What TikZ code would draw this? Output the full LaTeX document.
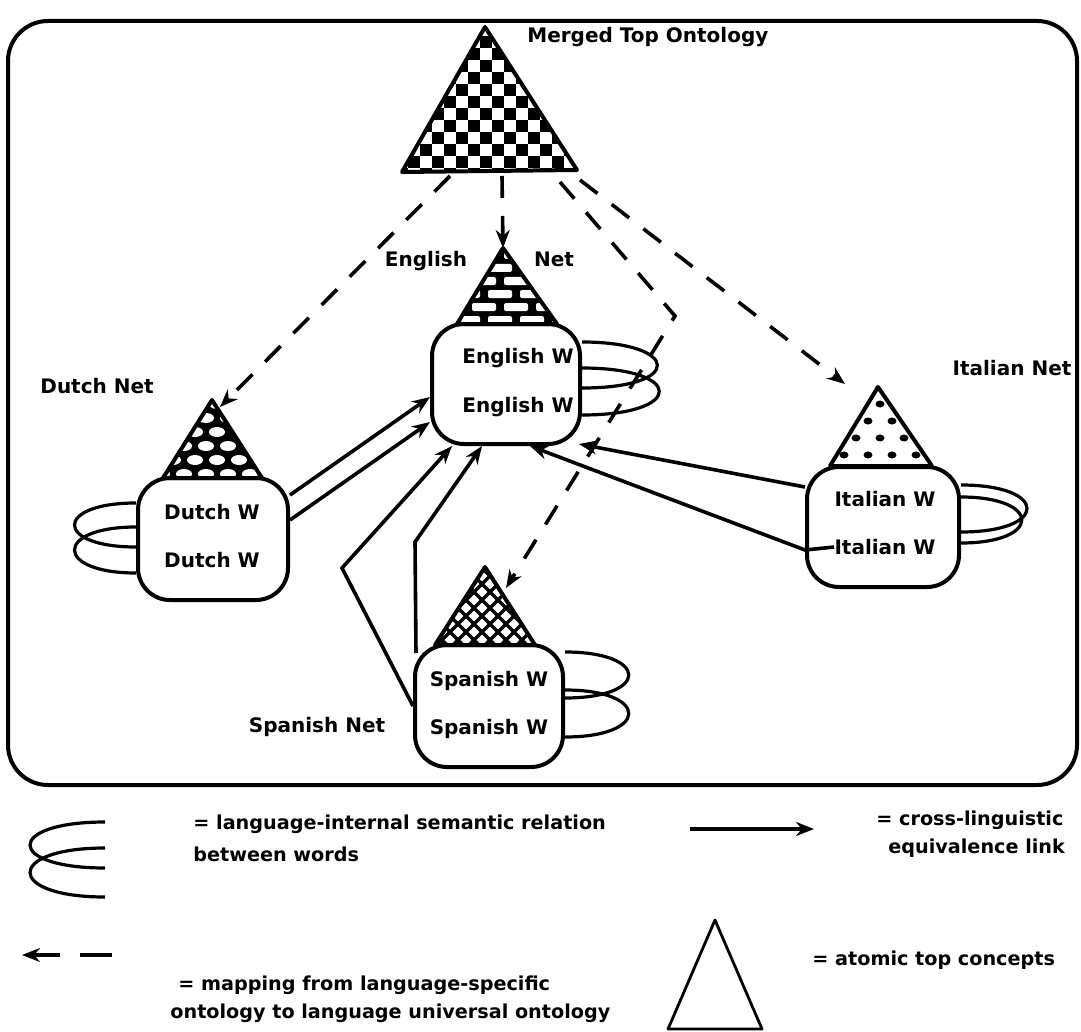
\documentclass[tikz,border=0pt]{standalone}
\usepackage{fontspec}
\setmainfont{DejaVu Sans}
\usetikzlibrary{arrows.meta,positioning,calc}

\tikzset{
  wordbox/.style={draw, line width=2pt, rounded corners=16pt, minimum width=74pt, minimum height=60pt},
  word/.style={font=\fontsize{10}{12}\selectfont\bfseries, inner sep=0pt},
  netlabel/.style={font=\fontsize{10}{12}\selectfont\bfseries, inner sep=0pt},
  legendtext/.style={font=\fontsize{9.6}{11}\selectfont\bfseries, inner sep=0pt, anchor=west},
  semloop/.style={line width=1.6pt},
  equiv/.style={line width=1.8pt, -{Stealth[length=9pt,width=7pt]}},
  mapping/.style={line width=1.8pt, dash pattern=on 11pt off 9pt, -{Stealth[length=9pt,width=7pt]}},
  tri/.style={line width=2pt, line join=round},
}

\begin{document}
\begin{tikzpicture}[x=0.5pt, y=-0.5pt]
  \useasboundingbox (0,0) rectangle (1081,1032);
  % outer frame
  \draw[line width=2pt, rounded corners=20pt] (8,21) rectangle (1077,785);

  % triangle corners
  \coordinate (topA) at (485,27);  \coordinate (topL) at (402,172); \coordinate (topR) at (577,170);
  \coordinate (engA) at (503,248); \coordinate (engL) at (457,324); \coordinate (engR) at (557,324);
  \coordinate (dutA) at (212,400); \coordinate (dutL) at (163,478); \coordinate (dutR) at (262,478);
  \coordinate (itaA) at (878,387); \coordinate (itaL) at (830,466); \coordinate (itaR) at (932,466);
  \coordinate (spaA) at (485,567); \coordinate (spaL) at (435,645); \coordinate (spaR) at (535,645);

  % Merged top ontology: checkerboard
  \begin{scope}
    \clip (topA) -- (topL) -- (topR) -- cycle;
    \foreach \x in {396,420,...,588}
      \foreach \y in {24,48,...,180}
        {\fill (\x,\y) rectangle +(12,12); \fill (\x+12,\y+12) rectangle +(12,12);}
  \end{scope}
  \draw[tri] (topA) -- (topL) -- (topR) -- cycle;
  \node[netlabel, anchor=west] (mergedlbl) at (527,37) {Merged Top Ontology};

  % English net: bricks
  \begin{scope}
    \clip (engA) -- (engL) -- (engR) -- cycle;
    \fill (440,240) rectangle (570,330);
    \foreach \y [count=\r] in {251,264,277,290,303,316}
      \foreach \x in {424,456,...,584}
        \fill[white, rounded corners=1pt] ({\x+mod(\r,2)*16},\y) rectangle +(24,8);
  \end{scope}
  \draw[tri] (engA) -- (engL) -- (engR) -- cycle;
  \node[netlabel] (englbl) at (426,261) {English};
  \node[netlabel] (netlbl) at (554,259) {Net};

  % Dutch net: scales
  \begin{scope}
    \clip (dutA) -- (dutL) -- (dutR) -- cycle;
    \fill (150,390) rectangle (275,485);
    \foreach \y [count=\r] in {404,418,432,446,460,474}
      \foreach \x in {140,162,...,290}
        \fill[white] ({\x+mod(\r,2)*11},\y) ellipse (8 and 5);
  \end{scope}
  \draw[tri] (dutA) -- (dutL) -- (dutR) -- cycle;
  \node[netlabel, anchor=west] (dutlbl) at (40,386) {Dutch Net};

  % Italian net: dots
  \begin{scope}
    \clip (itaA) -- (itaL) -- (itaR) -- cycle;
    \foreach \y [count=\r] in {404,421,438,455}
      \foreach \x in {820,844,...,940}
        \fill ({\x+mod(\r,2)*12},\y) ellipse (4.5 and 3.5);
  \end{scope}
  \draw[tri] (itaA) -- (itaL) -- (itaR) -- cycle;
  \node[netlabel] (italbl) at (1012,368) {Italian Net};

  % Spanish net: crosshatch
  \begin{scope}
    \clip (spaA) -- (spaL) -- (spaR) -- cycle;
    \foreach \k in {330,346,...,650}
      {\draw[line width=1.6pt] (\k,560) -- ++(100,100); \draw[line width=1.6pt] (\k,560) -- ++(-100,100);}
  \end{scope}
  \draw[tri] (spaA) -- (spaL) -- (spaR) -- cycle;
  \node[netlabel] (spalbl) at (317,727) {Spanish Net};

  % word boxes
  \node[wordbox] (eng) at (506,384) {};
  \node[wordbox, minimum width=75pt, minimum height=61pt] (dut) at (213,539) {};
  \node[wordbox, minimum width=76pt] (ita) at (883,527) {};
  \node[wordbox, minimum height=61pt] (spa) at (489,706) {};

  \node[word] (eng1) at (518,358) {English W};
  \node[word] (eng2) at (518,407) {English W};
  \node[word] (dut1) at (212,512) {Dutch W};
  \node[word] (dut2) at (212,560) {Dutch W};
  \node[word] (ita1) at (885,499) {Italian W};
  \node[word] (ita2) at (885,547) {Italian W};
  \node[word] (spa1) at (489,681) {Spanish W};
  \node[word] (spa2) at (489,729) {Spanish W};

  % language-internal relations
  \draw[semloop] (eng.east |- 0,342) .. controls (680,342) and (685,388) .. (eng.east |- 0,388);
  \draw[semloop] (eng.east |- 0,368) .. controls (685,368) and (685,415) .. (eng.east |- 0,415);
  \draw[semloop] (dut.west |- 0,503) .. controls (54,503) and (54,547) .. (dut.west |- 0,547);
  \draw[semloop] (dut.west |- 0,527) .. controls (54,527) and (54,573) .. (dut.west |- 0,573);
  \draw[semloop] (ita.east |- 0,485) .. controls (1049,485) and (1049,532) .. (ita.east |- 0,532);
  \draw[semloop] (ita.east |- 0,497) .. controls (1042,497) and (1042,543) .. (ita.east |- 0,543);
  \draw[semloop] (spa.east |- 0,652) .. controls (650,652) and (650,698) .. (spa.east |- 0,698);
  \draw[semloop] (spa.east |- 0,690) .. controls (650,690) and (650,737) .. (spa.east |- 0,737);

  % mappings from the top ontology
  \coordinate (toDut) at (450,176);
  \coordinate (toEng) at (502,176);
  \coordinate (toSpa) at (560,182);
  \coordinate (toIta) at (580,180);
  \coordinate (bend) at (675,316);
  \draw[mapping] (toDut) -- (220,407);
  \draw[mapping] (toEng) -- (engA);
  \draw[mapping] (toIta) -- (845,384);
  \draw[mapping] (toSpa) -- (bend) -- (506,588);

  % cross-linguistic equivalence links
  \draw[equiv] (dut.east |- 0,495) -- (eng.west |- 0,397);
  \draw[equiv] (dut.east |- 0,520) -- (eng.west |- 0,422);
  \draw[equiv] (spa.west |- 0,706) -- (342,568) -- (452,0 |- eng.south);
  \draw[equiv] ($(spa.north west)+(3,10)$) -- (415,542) -- (482,0 |- eng.south);
  \draw[equiv] (ita.west |- 0,487) -- ($(eng.south east)+(-3,-2)$);
  \draw[equiv] (ita2.west) -- (ita.west |- 0,550) -- (530,0 |- eng.south);

  % legend
  \draw[semloop] (105,822) .. controls (5,822) and (5,868) .. (105,868);
  \draw[semloop] (105,848) .. controls (5,848) and (5,897) .. (105,897);
  \node[legendtext] (lg1) at (193,824) {= language-internal semantic relation};
  \node[legendtext] (lg2) at (193,854) {between words};
  \coordinate (eqL) at (690,829); \coordinate (eqR) at (814,829);
  \draw[equiv] (eqL) -- (eqR);
  \node[legendtext] (lg3) at (876,820) {= cross-linguistic};
  \node[legendtext] (lg4) at (888,848) {equivalence link};
  \coordinate (mapR) at (112,955); \coordinate (mapL) at (22,955);
  \draw[mapping, dash pattern=on 16pt off 10pt] (mapR) -- (mapL);
  \node[legendtext] (lg5) at (178,985) {= mapping from language-specific};
  \node[legendtext] (lg6) at (170,1013) {ontology to language universal ontology};
  \draw[line width=1.4pt, line join=round] (715,920) -- (668,1029) -- (762,1029) -- cycle;
  \node[legendtext] (lg7) at (812,960) {= atomic top concepts};
\end{tikzpicture}
\end{document}
